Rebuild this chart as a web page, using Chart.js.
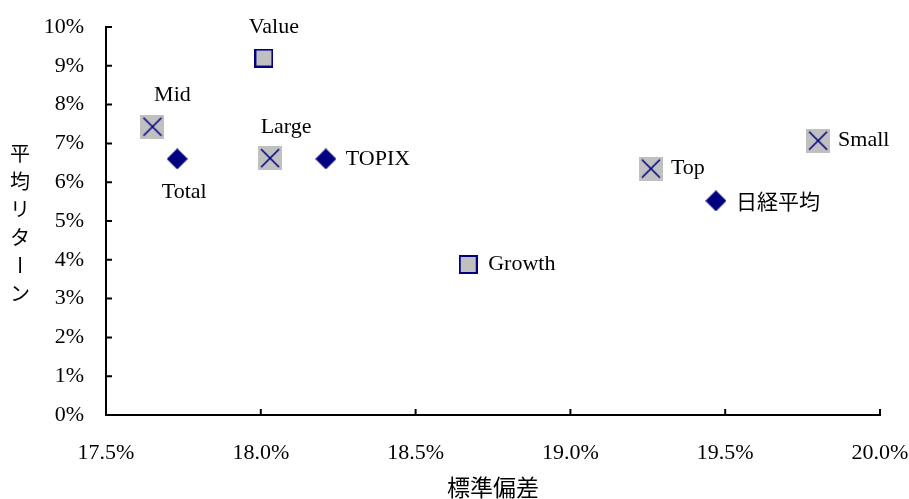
<!DOCTYPE html>
<html>
<head>
<meta charset="utf-8">
<script src="https://cdn.jsdelivr.net/npm/chart.js@4.4.0/dist/chart.umd.min.js"></script>
<style>
html, body { margin: 0; padding: 0; background: #fff; }
#wrap { width: 909px; height: 499px; }
</style>
</head>
<body>
<div id="wrap"><canvas id="riskChart"></canvas></div>
<script>
// size groups
var sizeNames = ["Large", "Mid", "Small", "Top"];
var sizeRisk = [18.03, 17.65, 19.80, 19.26];
var sizeReturn = [6.62, 7.43, 7.07, 6.35];
// style groups
var styleNames = ["Value", "Growth"];
var styleRisk = [18.01, 18.67];
var styleReturn = [9.20, 3.88];
// indices
var indexNames = ["Total", "TOPIX", "日経平均"];
var indexRisk = [17.73, 18.21, 19.47];
var indexReturn = [6.60, 6.60, 5.52];

var xTicks = [17.5, 18.0, 18.5, 19.0, 19.5, 20.0];
var yTicks = [0, 1, 2, 3, 4, 5, 6, 7, 8, 9, 10];

var navy = "#000080";
var gray = "#c0c0c0";
var serif = "'Liberation Serif', 'Times New Roman', serif";
var jp = "'Noto Sans CJK JP', sans-serif";

// where each label sits next to its marker
var labelPlace = {
  "Value": ["above", 10], "Mid": ["above", 20], "Large": ["above", 16],
  "Total": ["below", 7], "TOPIX": ["right", 0], "Growth": ["right", 0],
  "Top": ["right", 0], "日経平均": ["right", 0], "Small": ["right", 0]
};

function makeCanvas(size, draw) {
  var c = document.createElement("canvas");
  c.width = size; c.height = size;
  draw(c.getContext("2d"), size);
  return c;
}
var crossBox = makeCanvas(24, function (g, s) {
  g.fillStyle = gray; g.fillRect(0, 0, s, s);
  g.strokeStyle = navy; g.lineWidth = 1.6;
  g.beginPath();
  g.moveTo(3, 3); g.lineTo(s - 3, s - 3);
  g.moveTo(s - 3, 3); g.lineTo(3, s - 3);
  g.stroke();
});
var plainBox = makeCanvas(19, function (g, s) {
  g.fillStyle = navy; g.fillRect(0, 0, s, s);
  g.fillStyle = gray; g.fillRect(2, 2, s - 4, s - 4);
});
var diamond = makeCanvas(21, function (g, s) {
  g.fillStyle = navy;
  g.beginPath();
  g.moveTo(s / 2, 0); g.lineTo(s, s / 2); g.lineTo(s / 2, s); g.lineTo(0, s / 2);
  g.closePath(); g.fill();
});

function pts(xs, ys) {
  return xs.map(function (x, i) { return { x: x, y: ys[i] }; });
}

var pointLabels = {
  id: "pointLabels",
  afterDatasetsDraw: function (chart) {
    var ctx = chart.ctx;
    ctx.save();
    ctx.fillStyle = "#000";
    chart.data.datasets.forEach(function (ds, di) {
      chart.getDatasetMeta(di).data.forEach(function (el, i) {
        var name = ds.names[i];
        var p = labelPlace[name];
        var cjk = /[^\x00-\x7f]/.test(name);
        ctx.font = (cjk ? "21px " + jp : "22px " + serif);
        ctx.textBaseline = "middle";
        if (p[0] === "right") {
          ctx.textAlign = "left";
          ctx.fillText(name, el.x + 20, el.y);
        } else if (p[0] === "above") {
          ctx.textAlign = "center";
          ctx.fillText(name, el.x + p[1], el.y - 31);
        } else {
          ctx.textAlign = "center";
          ctx.fillText(name, el.x + p[1], el.y + 33);
        }
      });
    });
    ctx.restore();
  }
};

var axisDecor = {
  id: "axisDecor",
  afterDraw: function (chart) {
    var ctx = chart.ctx, a = chart.chartArea;
    var xs = chart.scales.x, ys = chart.scales.y;
    ctx.save();
    ctx.strokeStyle = "#000"; ctx.lineWidth = 2;
    ctx.beginPath();
    xTicks.forEach(function (v) {
      var px = xs.getPixelForValue(v);
      ctx.moveTo(px, a.bottom); ctx.lineTo(px, a.bottom - 6);
    });
    yTicks.forEach(function (v) {
      var py = ys.getPixelForValue(v);
      ctx.moveTo(a.left, py); ctx.lineTo(a.left + 6, py);
    });
    ctx.stroke();
    // vertical y title
    var title = "平均リターン".split("");
    ctx.fillStyle = "#000";
    ctx.font = "20px " + jp;
    ctx.textAlign = "center"; ctx.textBaseline = "middle";
    title.forEach(function (ch, i) {
      var cy = 153 + i * 28;
      if (ch === "ー") {
        ctx.save(); ctx.translate(20, cy); ctx.rotate(Math.PI / 2);
        ctx.fillText(ch, 0, 0); ctx.restore();
      } else {
        ctx.fillText(ch, 20, cy);
      }
    });
    ctx.restore();
  }
};

new Chart(document.getElementById("riskChart"), {
  type: "scatter",
  data: {
    datasets: [
      { names: sizeNames, data: pts(sizeRisk, sizeReturn), pointStyle: crossBox },
      { names: styleNames, data: pts(styleRisk, styleReturn), pointStyle: plainBox },
      { names: indexNames, data: pts(indexRisk, indexReturn), pointStyle: diamond }
    ]
  },
  options: {
    responsive: true,
    maintainAspectRatio: false,
    animation: false,
    layout: { padding: { top: 27, right: 29, left: 0, bottom: 0 } },
    plugins: { legend: { display: false }, tooltip: { enabled: false } },
    scales: {
      x: {
        min: 17.5, max: 20.0,
        afterBuildTicks: function (s) { s.ticks = xTicks.map(function (v) { return { value: v }; }); },
        afterFit: function (s) { s.height = 84; s.paddingLeft = 0; s.paddingRight = 0; },
        grid: { display: false },
        border: { display: true, color: "#000", width: 2 },
        ticks: {
          padding: 17, color: "#000", font: { family: serif, size: 22 },
          callback: function (v) { return v.toFixed(1) + "%"; }
        },
        title: { display: true, text: "標準偏差", color: "#000", padding: { top: 0, bottom: -2 }, font: { family: jp, size: 23 } }
      },
      y: {
        min: 0, max: 10,
        afterBuildTicks: function (s) { s.ticks = yTicks.map(function (v) { return { value: v }; }); },
        afterFit: function (s) { s.width = 106; s.paddingTop = 0; s.paddingBottom = 0; },
        grid: { display: false },
        border: { display: true, color: "#000", width: 2 },
        ticks: {
          padding: 14, color: "#000", font: { family: serif, size: 22 },
          callback: function (v) { return v + "%"; }
        }
      }
    }
  },
  plugins: [pointLabels, axisDecor]
});
</script>
</body>
</html>
